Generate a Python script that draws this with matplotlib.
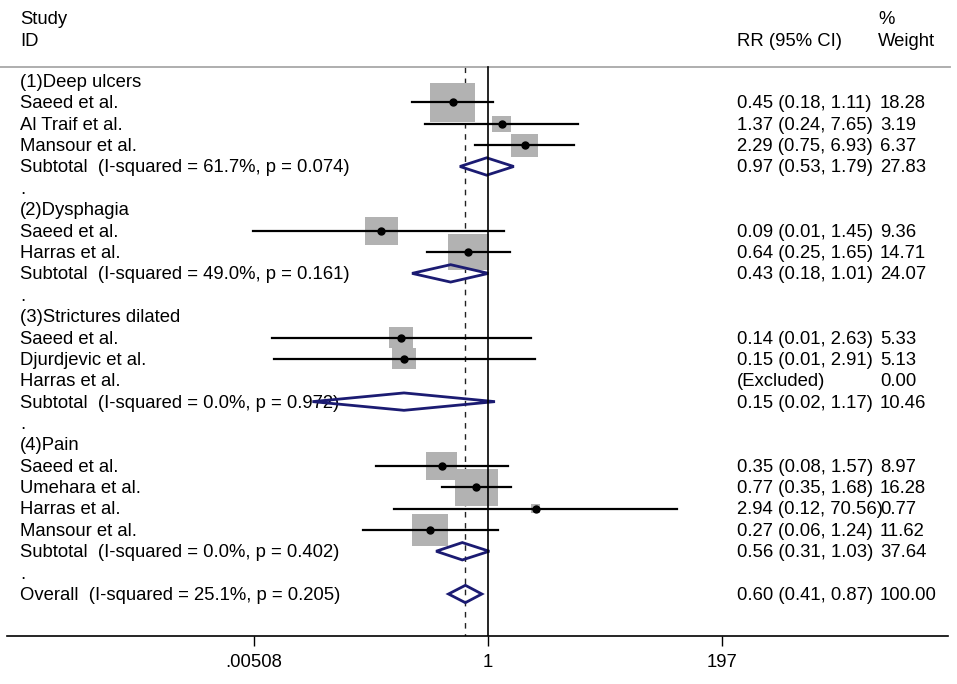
import numpy as np
import matplotlib
matplotlib.use("Agg")
import matplotlib.pyplot as plt
from matplotlib.patches import Rectangle, Polygon
from matplotlib.transforms import blended_transform_factory

plt.rcParams['font.family'] = ['Liberation Sans', 'DejaVu Sans']

# rows, top to bottom
row_labels = [
    "(1)Deep ulcers", "Saeed et al.", "Al Traif et al.", "Mansour et al.",
    "Subtotal  (I-squared = 61.7%, p = 0.074)", ".",
    "(2)Dysphagia", "Saeed et al.", "Harras et al.",
    "Subtotal  (I-squared = 49.0%, p = 0.161)", ".",
    "(3)Strictures dilated", "Saeed et al.", "Djurdjevic et al.", "Harras et al.",
    "Subtotal  (I-squared = 0.0%, p = 0.972)", ".",
    "(4)Pain", "Saeed et al.", "Umehara et al.", "Harras et al.", "Mansour et al.",
    "Subtotal  (I-squared = 0.0%, p = 0.402)", ".",
    "Overall  (I-squared = 25.1%, p = 0.205)",
]
row_kind = [
    "group", "study", "study", "study", "pooled", "gap",
    "group", "study", "study", "pooled", "gap",
    "group", "study", "study", "excluded", "pooled", "gap",
    "group", "study", "study", "study", "study", "pooled", "gap",
    "pooled",
]
nan = np.nan
rr = [nan, 0.45, 1.37, 2.29, 0.97, nan,
      nan, 0.09, 0.64, 0.43, nan,
      nan, 0.14, 0.15, nan, 0.15, nan,
      nan, 0.35, 0.77, 2.94, 0.27, 0.56, nan,
      0.60]
ci_lo = [nan, 0.18, 0.24, 0.75, 0.53, nan,
         nan, 0.005, 0.25, 0.18, nan,
         nan, 0.0076, 0.008, nan, 0.019, nan,
         nan, 0.08, 0.35, 0.12, 0.06, 0.31, nan,
         0.41]
ci_hi = [nan, 1.11, 7.65, 6.93, 1.79, nan,
         nan, 1.45, 1.65, 1.01, nan,
         nan, 2.63, 2.91, nan, 1.17, nan,
         nan, 1.57, 1.68, 70.56, 1.24, 1.03, nan,
         0.87]
weight = [nan, 18.28, 3.19, 6.37, 27.83, nan,
          nan, 9.36, 14.71, 24.07, nan,
          nan, 5.33, 5.13, 0.00, 10.46, nan,
          nan, 8.97, 16.28, 0.77, 11.62, 37.64, nan,
          100.00]

tick_vals = [1 / 197, 1, 197]
tick_labels = [".00508", "1", "197"]

overall_rr = 0.60
navy = "#1b1b72"
box_grey = "#b2b2b2"
fs = 13.3

W, H = 957, 684
fig = plt.figure(figsize=(W / 100, H / 100), dpi=100)

# pixel geometry of the reference
px_one = 488.0          # x pixel of RR = 1
px_per_ln = 44.29       # pixels per unit of ln(RR)
row0_px, row_step = 81.0, 21.375
axis_px, ax_left, ax_right = 636.0, 7.0, 948.0

ax = fig.add_axes([ax_left / W, (H - axis_px) / H, (ax_right - ax_left) / W, axis_px / H])
ax.set_xscale('log')
ax.set_xlim(np.exp((ax_left - px_one) / px_per_ln), np.exp((ax_right - px_one) / px_per_ln))
ax.set_ylim((axis_px - row0_px) / row_step, -row0_px / row_step)

def px_row(y_px):
    return (y_px - row0_px) / row_step

trans = blended_transform_factory(fig.transFigure, ax.transData)
tdy = 1.5 / row_step   # small nudge so text sits like the reference

def put(x_px, y, s):
    ax.text(x_px / W, y + tdy, s, transform=trans, fontsize=fs, va='center')

# header
put(20, px_row(18), "Study")
put(20, px_row(40), "ID")
put(737, px_row(40), "RR (95% CI)")
put(878, px_row(18), "%")
put(878, px_row(40), "Weight")

sep = px_row(67)
ax.plot([0, 950 / W], [sep, sep], transform=trans, color="#a8a8a8", lw=1.3, clip_on=False)

ybot = ax.get_ylim()[0]
ax.plot([1, 1], [sep, ybot], color='k', lw=1.2, zorder=5)
ax.plot([overall_rr, overall_rr], [sep, ybot], color='#222222', lw=1.0,
        ls=(0, (4, 4)), zorder=1)

diamond_h = 8.7 / row_step
for i, kind in enumerate(row_kind):
    put(20, i, row_labels[i])
    if kind == "study":
        w = weight[i]
        hw = 10.6 * np.sqrt(w) / 2 / px_per_ln
        hh = 9.2 * np.sqrt(w) / 2 / row_step
        x0 = rr[i] * np.exp(-hw)
        ax.add_patch(Rectangle((x0, i - hh), rr[i] * np.exp(hw) - x0, 2 * hh,
                               facecolor=box_grey, edgecolor='none', zorder=2))
        ax.plot([ci_lo[i], ci_hi[i]], [i, i], color='k', lw=1.6, zorder=3)
        ax.plot(rr[i], i, 'o', color='k', ms=5, zorder=4)
    elif kind == "pooled":
        pts = [(ci_lo[i], i), (rr[i], i - diamond_h), (ci_hi[i], i), (rr[i], i + diamond_h)]
        ax.add_patch(Polygon(pts, closed=True, fill=False, edgecolor=navy, lw=2.0, zorder=4))
    if kind in ("study", "pooled"):
        put(737, i, f"{rr[i]:.2f} ({ci_lo[i]:.2f}, {ci_hi[i]:.2f})")
        put(880, i, f"{weight[i]:.2f}")
    elif kind == "excluded":
        put(737, i, "(Excluded)")
        put(880, i, f"{weight[i]:.2f}")

for s in ['top', 'left', 'right']:
    ax.spines[s].set_visible(False)
ax.spines['bottom'].set_linewidth(1.2)
ax.set_yticks([])
ax.set_xticks(tick_vals)
ax.set_xticklabels(tick_labels, fontsize=fs)
ax.minorticks_off()
ax.tick_params(axis='x', length=7, width=1.0, pad=6)
ax.patch.set_alpha(0)

fig.savefig("out.png", dpi=100)
